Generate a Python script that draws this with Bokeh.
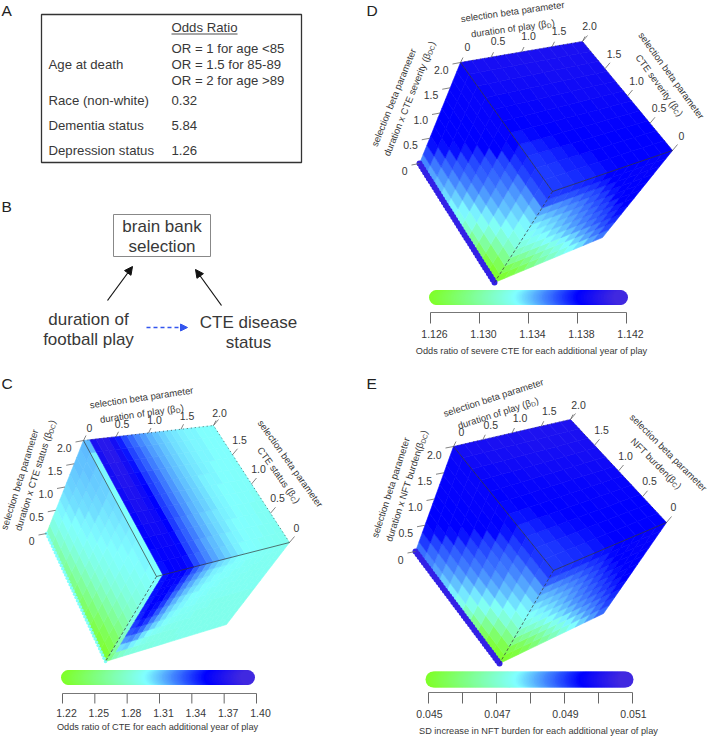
import math
import numpy as np
from bokeh.core.properties import value
from bokeh.embed import file_html
from bokeh.models import Arrow, ColumnDataSource, LinearColorMapper, NormalHead, Range1d
from bokeh.plotting import figure
from bokeh.resources import INLINE
from bokeh.transform import transform

# ---- panel A / B contents
or_rows = ["Age at death", "Race (non-white)", "Dementia status", "Depression status"]
or_values = ["0.32", "5.84", "1.26"]
or_age = ["OR = 1 for age <85", "OR = 1.5 for 85-89", "OR = 2 for age >89"]

# ---- cube axis ticks
beta_ticks = [0, 0.5, 1.0, 1.5, 2.0]
beta_labels = ["0", "0.5", "1.0", "1.5", "2.0"]

# ---- key scales
c_key_ticks = [1.22, 1.25, 1.28, 1.31, 1.34, 1.37, 1.40]
c_key_labels = ["1.22", "1.25", "1.28", "1.31", "1.34", "1.37", "1.40"]
d_key_ticks = [1.126, 1.130, 1.134, 1.138, 1.142]
d_key_labels = ["1.126", "1.130", "1.134", "1.138", "1.142"]
e_key_ticks = [0.045, 0.046, 0.047, 0.048, 0.049, 0.050, 0.051]
e_key_labels = ["0.045", "", "0.047", "", "0.049", "", "0.051"]

# ---- surface values, read as percent of the way along each panel's key
# top face: rows beta_C 0..2, columns beta_D 0..2
c_top = [
 [46,78,80,81,81,78,70,66,62,58,55,52,50,48,46,46,45,44,44,43,43],
 [46,79,81,82,82,79,71,67,62,58,55,53,50,48,47,46,45,45,44,44,43],
 [46,80,82,83,83,79,71,67,63,59,56,53,51,49,47,46,46,45,45,44,44],
 [46,81,84,85,84,80,72,67,63,59,56,53,51,49,48,47,46,45,45,44,44],
 [46,82,86,86,84,80,72,68,64,60,56,54,52,50,48,47,46,46,45,45,44],
 [46,84,88,88,84,80,72,68,64,60,57,54,52,50,48,47,46,46,45,45,45],
 [46,85,89,89,85,80,72,68,64,60,57,54,52,50,48,47,47,46,46,45,45],
 [47,86,90,90,85,79,72,68,64,60,57,54,52,50,49,48,47,46,46,46,45],
 [47,86,91,91,86,78,71,67,63,60,57,54,52,50,49,48,47,47,46,46,46],
 [48,87,92,92,86,77,71,67,63,59,57,54,52,50,49,48,47,47,46,46,46],
 [55,88,92,92,86,76,70,66,62,59,56,54,52,50,49,48,47,47,46,46,46]]
# right face: rows beta_DC 0..2, columns beta_D 0..2
c_right = [
 [20,30,35,38,39,40,40,40,41,41,41,41,42,42,42,42,42,42,42,42,42],
 [25,50,52,48,44,42,41,41,41,41,41,42,42,42,42,42,42,42,42,42,42],
 [30,60,62,58,50,46,44,43,42,42,42,42,42,42,42,42,42,42,42,42,42],
 [34,68,70,66,58,52,48,45,44,43,43,43,42,42,42,42,42,42,42,42,42],
 [38,72,76,72,64,57,51,47,45,44,44,43,43,43,42,42,42,42,42,42,42],
 [40,75,79,76,68,60,53,49,47,45,45,44,44,43,43,43,43,43,43,43,43],
 [42,76,80,78,72,63,56,51,48,46,46,45,44,44,44,43,43,43,43,43,43],
 [43,77,80,80,75,66,59,54,50,48,46,46,45,44,44,44,43,43,43,43,43],
 [44,78,81,80,77,70,62,57,52,49,47,46,45,45,44,44,44,43,43,43,43],
 [45,78,81,81,79,73,65,60,55,51,48,47,46,45,45,44,44,44,43,43,43],
 [46,78,80,81,80,76,68,63,58,54,51,49,47,46,45,45,44,44,44,43,43]]
# left face: rows beta_DC 0..2, columns beta_C 0..2
c_left = [
 [3,5,8,11,14,17,21,24,27,30,33],
 [8,10,13,17,20,24,27,31,34,37,40],
 [14,17,20,24,28,31,34,37,40,42,44],
 [21,24,27,31,34,37,40,42,44,46,47],
 [27,30,33,36,39,41,43,45,46,48,49],
 [33,35,38,40,42,44,45,47,48,50,51],
 [37,39,41,43,44,46,47,48,50,51,52],
 [40,42,43,45,46,47,48,50,51,52,53],
 [42,43,45,46,47,48,49,51,52,53,54],
 [44,45,46,47,48,49,50,52,53,54,54],
 [46,47,47,48,49,50,51,52,53,54,55]]
c_edge = [46,46,46,46,46,46,46,46,46,46,46,46,46,46,45,45,45,45,45,45,45,45,45,45,45,45,45,45,45,45,45,44,44,44,44,44,44,44,44,44,44]

d_top = [
 [72,73,74,75,77,79,80,80,80,80,80],
 [72,73,75,76,78,80,80,80,80,80,80],
 [73,74,76,78,80,80,80,80,80,80,80],
 [74,76,78,80,80,80,81,81,81,81,81],
 [77,79,80,80,81,81,81,82,82,82,82],
 [80,80,81,81,82,82,82,82,83,83,83],
 [81,81,82,82,83,83,83,84,84,84,84],
 [82,82,83,83,84,84,84,85,85,85,85],
 [83,84,84,85,85,85,86,86,86,86,86],
 [85,85,86,86,86,87,87,87,87,87,87],
 [86,87,87,87,88,88,88,88,88,88,88]]
d_left = [
 [2,6,14,24,34,42,47,51,55,58,62],
 [10,16,25,34,42,47,52,56,60,64,70],
 [22,28,36,43,48,53,58,62,66,70,78],
 [33,38,44,49,54,59,63,67,70,78,80],
 [40,45,50,55,59,64,67,70,78,80,80],
 [44,49,54,59,63,67,70,76,80,80,80],
 [47,52,57,62,66,69,74,80,80,80,80],
 [52,56,60,65,68,72,80,80,80,81,81],
 [58,61,64,68,71,80,80,81,81,81,81],
 [68,69,71,73,78,80,81,81,82,82,82],
 [72,73,74,76,80,81,81,82,82,82,82]]
d_right = [
 [2,6,12,20,28,34,40,46,50,58,64],
 [10,14,20,27,34,40,46,52,58,64,70],
 [22,25,30,36,42,47,52,58,63,69,74],
 [33,36,40,45,49,54,59,64,68,73,78],
 [40,43,46,50,54,59,63,67,71,76,80],
 [44,47,50,54,58,62,66,70,74,80,80],
 [47,50,53,57,61,65,69,73,79,80,80],
 [52,55,58,61,64,68,72,77,80,80,80],
 [58,60,62,65,68,71,76,80,80,81,81],
 [68,68,69,71,73,76,80,80,81,81,81],
 [72,73,74,75,77,80,80,80,80,81,81]]
d_edge = [96,96,96,96,96,96,96,96,96,96,96,96,96,96,96,96,96,96,96,96,96,96,96,96,96,96,96,96,96,96,96,96,96,96,96,96,96,96,96,96,96]

e_top = [
 [72,73,74,75,77,79,80,80,80,80,80],
 [72,73,75,76,78,79,80,80,80,80,80],
 [73,74,76,78,79,80,80,80,80,80,80],
 [74,76,78,79,80,80,80,81,81,81,81],
 [77,78,80,80,80,81,81,81,82,82,82],
 [79,80,80,81,81,81,82,82,83,83,83],
 [80,81,81,82,82,83,83,84,84,84,85],
 [81,82,82,83,84,84,85,85,85,86,86],
 [83,83,84,85,85,86,86,86,87,87,87],
 [85,85,86,86,87,87,88,88,88,88,88],
 [86,87,87,88,88,88,89,89,89,89,89]]
e_left = [
 [2,5,12,22,33,42,48,53,58,62,65],
 [8,14,23,33,42,49,54,58,62,66,72],
 [20,27,35,43,49,54,59,63,67,71,78],
 [32,38,44,50,55,60,64,67,71,78,80],
 [40,45,51,56,60,64,67,71,78,80,80],
 [45,50,55,60,64,67,71,77,80,80,80],
 [49,54,58,63,66,70,75,80,80,80,81],
 [54,58,62,65,68,73,80,80,80,81,81],
 [59,62,65,68,72,79,80,81,81,81,82],
 [67,68,70,72,77,80,81,81,82,82,82],
 [72,73,74,76,79,81,81,82,82,82,83]]
e_right = [
 [2,5,10,17,25,32,39,46,52,59,66],
 [8,12,18,25,33,40,47,53,59,65,71],
 [20,24,29,35,42,48,54,59,64,69,74],
 [32,35,39,45,50,55,60,64,68,73,78],
 [40,43,47,51,55,60,64,68,72,76,80],
 [45,48,51,55,59,63,67,71,75,79,80],
 [49,52,55,58,62,66,70,74,78,80,80],
 [54,56,59,62,65,69,73,77,80,80,80],
 [59,61,63,66,69,72,76,80,80,81,81],
 [67,68,69,70,73,75,79,80,81,81,81],
 [72,73,74,75,77,78,80,80,80,81,81]]
e_edge = [96,96,96,96,96,96,96,96,96,96,96,96,96,96,96,96,96,96,96,96,96,96,96,96,96,96,96,96,96,96,96,96,96,96,96,96,96,96,96,96,96]

# ---- colour ramp of the keys
def ramp():
    stops = [(0.0, (127, 255, 42)), (0.46, (128, 255, 255)), (0.80, (0, 0, 255)), (1.0, (64, 40, 224))]
    pal = []
    for k in range(256):
        f = k / 255
        for (a, ca), (b, cb) in zip(stops, stops[1:]):
            if f <= b:
                w = (f - a) / (b - a)
                pal.append("#%02x%02x%02x" % tuple(round(x + (y - x) * w) for x, y in zip(ca, cb)))
                break
    return pal
PALETTE = ramp()

FONT = value("Liberation Sans")
INK = "#383838"
p = figure(width=709, height=737, x_range=Range1d(0, 709), y_range=Range1d(737, 0),
           output_backend="svg", toolbar_location=None, min_border=0, outline_line_color=None)
p.xaxis.visible = False
p.yaxis.visible = False
p.xgrid.visible = False
p.ygrid.visible = False
p.background_fill_color = None
p.border_fill_color = "white"


def put(x, y, s, size=13.2, align="left", base="middle", angle=0.0, color=INK):
    p.text([x], [y], text=[s], text_font=FONT, text_font_size=f"{size}px", text_align=align,
           text_baseline=base, angle=angle, angle_units="deg", text_color=color)


def sub_line(x, y, angle, main, sub, size=9.5):
    """Rotated line that ends in a subscript and ')': (x, y) is the end of the main text on its baseline."""
    a = math.radians(angle)
    along = (math.cos(a), -math.sin(a))
    down = (math.sin(a), math.cos(a))
    put(x, y, main, size=size, align="right", base="alphabetic", angle=angle)
    w = 0.72 * 6.5 * len(sub)
    put(x + down[0] * 2.2, y + down[1] * 2.2, sub, size=6.5, base="alphabetic", angle=angle)
    put(x + along[0] * (w + 0.3), y + along[1] * (w + 0.3), ")", size=size, base="alphabetic", angle=angle)


def bil(q00, q10, q01, q11, u, v):
    return tuple((1 - u) * (1 - v) * a + u * (1 - v) * b + (1 - u) * v * c + u * v * d
                 for a, b, c, d in zip(q00, q10, q01, q11))


def mix(a, b, f):
    return (a[0] + (b[0] - a[0]) * f, a[1] + (b[1] - a[1]) * f)


def cube(G, tables, edge, low, high, ticks_off, titles, key, key_ticks, key_labels, key_title):
    C, A, T, R, LR, B, L = (G[k] for k in ("C", "A", "T", "R", "LR", "B", "L"))
    mapper = LinearColorMapper(palette=PALETTE, low=low, high=high)
    span = high - low
    faces = [(tables[1], (B, L, C, A)), (tables[2], (B, LR, C, R)), (tables[0], (C, R, A, T))]
    xs, ys, vs = [], [], []
    for tab, q in faces:
        nr, nc = len(tab), len(tab[0])
        for j, row in enumerate(tab):
            for i, pct in enumerate(row):
                pts = [bil(*q, i / nc, j / nr), bil(*q, (i + 1) / nc, j / nr),
                       bil(*q, (i + 1) / nc, (j + 1) / nr), bil(*q, i / nc, (j + 1) / nr)]
                xs.append([a for a, _ in pts])
                ys.append([b for _, b in pts])
                vs.append(low + pct / 100 * span)
    src = ColumnDataSource(dict(xs=xs, ys=ys, v=vs))
    c = transform("v", mapper)
    p.patches("xs", "ys", source=src, fill_color=c, line_color=c, line_width=0.6)

    # strip along the beta_DC = 0 edge
    n = len(edge)
    esrc = ColumnDataSource(dict(x=[mix(L, B, k / (n - 1))[0] for k in range(n)],
                                 y=[mix(L, B, k / (n - 1))[1] for k in range(n)],
                                 v=[low + e / 100 * span for e in edge]))
    p.scatter("x", "y", source=esrc, size=G["edge_size"], line_color=None, fill_color=c)

    # cube edges
    for a, b, dash in ((C, A, "solid"), (C, R, "solid"), (C, B, "3 2"), (A, T, "1 3"), (R, T, "1 3")):
        p.line([a[0], b[0]], [a[1], b[1]], line_color="#303030", line_width=0.8, line_dash=dash, line_alpha=0.85)

    # cube ticks and labels
    for t, lab in zip(beta_ticks, beta_labels):
        f = t / 2
        o = ticks_off
        q = mix(A, T, f)
        p.segment([q[0]], [q[1]], [q[0] + 2.5], [q[1] - 5], line_color="#666666", line_width=0.8)
        put(q[0] + o["D"][0], q[1] + o["D"][1], lab, size=10.5, align="center")
        q = mix(R, T, f)
        p.segment([q[0]], [q[1]], [q[0] + 5], [q[1] - 6], line_color="#666666", line_width=0.8)
        if t < 2:
            put(q[0] + o["C"][0], q[1] + o["C"][1], lab, size=10.5, align="center")
        q = mix(L, A, f)
        p.segment([q[0]], [q[1]], [q[0] - 8], [q[1] + 1.5], line_color="#666666", line_width=0.8)
        put(q[0] + o["DC"][0], q[1] + o["DC"][1], lab, size=10.5, align="right")

    for (x, y, ang, s) in titles["plain"]:
        put(x, y, s, size=9.5, align="center", angle=ang)
    for (x, y, ang, s, sb) in titles["sub"]:
        sub_line(x, y, ang, s, sb)

    # colour key
    x0, x1, yb, yaxis, ytick, ylab, ylabdx, ytitle, xtitle, xa0, xa1, sz = key
    levels = np.linspace(low, high, 120)
    lx = x0 + (levels - low) / span * (x1 - x0)
    ksrc = ColumnDataSource(dict(x=lx, y=[yb] * 120, v=levels))
    kc = transform("v", mapper)
    p.scatter("x", "y", source=ksrc, size=sz, line_color=None, fill_color=kc)
    p.line([xa0, xa1], [yaxis, yaxis], line_color="#777777", line_width=1)
    for t, lab in zip(key_ticks, key_labels):
        x = xa0 + (t - key_ticks[0]) / (key_ticks[-1] - key_ticks[0]) * (xa1 - xa0)
        p.segment([x], [yaxis], [x], [ytick], line_color="#666666", line_width=1)
        if lab:
            put(x + ylabdx, ylab, lab, size=10.5, align="center")
    put(xtitle, ytitle, key_title, size=9.2, align="center")


# ---- panel letters
for x, y, s in ((1, 10, "A"), (1, 206, "B"), (1, 383, "C"), (366, 10, "D"), (366, 383, "E")):
    put(x, y, s, size=15.5, color="#222222")

# ---- panel A
p.quad(left=[41], right=[301], top=[14], bottom=[162], fill_color=None, line_color="#333333", line_width=1.3)
put(171, 27, "Odds Ratio")
p.line([171, 237], [33.5, 33.5], line_color=INK, line_width=0.9)
for y, s in zip((48, 64, 80), or_age):
    put(171, y, s)
for y, s in zip((64, 100, 125, 150), or_rows):
    put(48, y, s)
for y, s in zip((100, 125, 150), or_values):
    put(171, y, s)

# ---- panel B
p.quad(left=[113], right=[210], top=[214], bottom=[256], fill_color=None, line_color="#888888", line_width=1)
put(161.5, 226, "brain bank", size=17, align="center")
put(161.5, 246, "selection", size=17, align="center")
put(88, 319, "duration of", size=17, align="center")
put(88, 339, "football play", size=17, align="center")
put(248, 322, "CTE disease", size=17, align="center")
put(248, 342, "status", size=17, align="center")
for (xa, ya, xb, yb) in ((107, 300, 132, 266), (221, 305, 195, 269)):
    p.add_layout(Arrow(end=NormalHead(size=8, fill_color="#111111", line_color="#111111"),
                       x_start=xa, y_start=ya, x_end=xb, y_end=yb, line_color="#111111", line_width=1.2))
p.add_layout(Arrow(end=NormalHead(size=7, fill_color="#3355ee", line_color="#3355ee"),
                   x_start=146, y_start=327, x_end=187, y_end=327, line_color="#3355ee", line_width=1.3,
                   line_dash="4 3"))

# ---- panel C
cube(dict(C=(156, 576), A=(83, 440), T=(213, 425), R=(289, 542), LR=(226, 624), B=(105, 661), L=(46, 533), edge_size=3.5),
     (c_top, c_left, c_right), c_edge, 1.22, 1.40,
     dict(D=(6, -13), C=(7, -15), DC=(-12, 7)),
     dict(plain=[(141, 397, 8.3, "selection beta parameter"),
                 (290, 463, -54.5, "selection beta parameter"),
                 (19, 479, 72.5, "selection beta parameter")],
          sub=[(175, 408, 8.3, "duration of play (β", "D"),
               (293, 495, -54.5, "CTE status (β", "C"),
               (48, 432, 72.5, "duration x CTE status (β", "DC")]),
     (68, 247, 677, 693, 703, 712, 4, 726, 157, 62, 256, 15),
     c_key_ticks, c_key_labels, "Odds ratio of CTE for each additional year of play")

# ---- panel D
cube(dict(C=(552, 191), A=(460, 62), T=(582, 41), R=(672, 150), LR=(602, 237), B=(494, 282), L=(419, 163), edge_size=6),
     (d_top, d_left, d_right), d_edge, 1.126, 1.142,
     dict(D=(7, -16), C=(9, -15), DC=(-12, 7)),
     dict(plain=[(512, 11, 7.9, "selection beta parameter"),
                 (671, 75, -54, "selection beta parameter"),
                 (393, 97, 68, "selection beta parameter")],
          sub=[(546, 23, 7.9, "duration of play (β", "D"),
               (676, 108, -54, "CTE severity (β", "C"),
               (427, 53, 68, "duration x CTE severity (β", "DC")]),
     (436, 620, 297, 312, 323, 333, 4, 350, 531, 430, 626, 15),
     d_key_ticks, d_key_labels, "Odds ratio of severe CTE for each additional year of play")

# ---- panel E
cube(dict(C=(553, 570), A=(453, 446), T=(570, 419), R=(666, 522), LR=(603, 613), B=(499, 663), L=(415, 551), edge_size=6),
     (e_top, e_left, e_right), e_edge, 0.045, 0.051,
     dict(D=(8, -15), C=(7, -15.5), DC=(-12, 8)),
     dict(plain=[(493, 397, 17.9, "selection beta parameter"),
                 (668, 452, -45, "selection beta parameter"),
                 (390, 487, 72, "selection beta parameter")],
          sub=[(530, 402, 17.9, "duration of play (β", "D"),
               (674, 481, -45, "NFT burden(β", "C"),
               (420, 442, 72, "duration x NFT burden(β", "DC")]),
     (433, 625, 679, 692, 703, 713, 1, 730, 538, 428, 632, 16),
     e_key_ticks, e_key_labels, "SD increase in NFT burden for each additional year of play")

open("out.html", "w").write(file_html(p, INLINE))
